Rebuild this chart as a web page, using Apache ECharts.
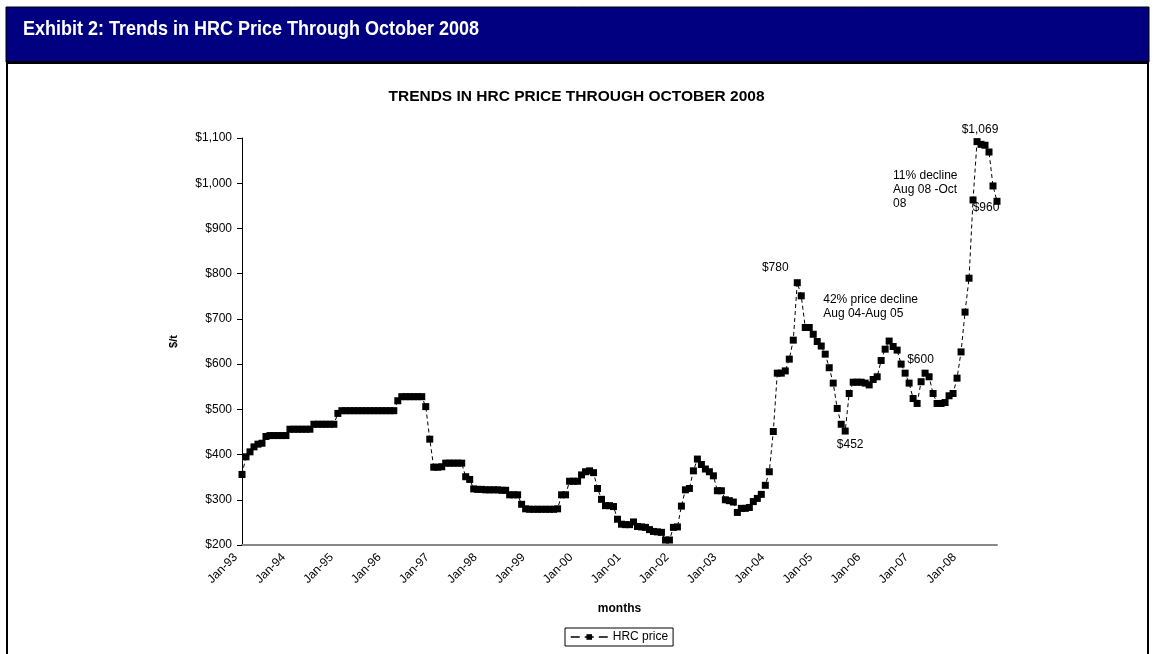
<!DOCTYPE html>
<html>
<head>
<meta charset="utf-8">
<title>Trends in HRC Price Through October 2008</title>
<script src="https://cdn.jsdelivr.net/npm/echarts/dist/echarts.min.js"></script>
<style>
  html, body { margin: 0; padding: 0; background: #fff; }
  #chart { width: 1153px; height: 654px; }
</style>
</head>
<body>
<div id="chart"></div>
<script>
// HRC price, $/t, monthly Jan-93 .. Oct-08
const monthNames = ['Jan', 'Feb', 'Mar', 'Apr', 'May', 'Jun', 'Jul', 'Aug', 'Sep', 'Oct', 'Nov', 'Dec']
const years = ['93', '94', '95', '96', '97', '98', '99', '00', '01', '02', '03', '04', '05', '06', '07', '08']

const p1993 = [356, 395, 406, 417, 423, 425, 440, 442, 442, 442, 442, 442]
const p1994 = [456, 456, 456, 456, 456, 456, 467, 467, 467, 467, 467, 467]
const p1995 = [491, 497, 497, 497, 497, 497, 497, 497, 497, 497, 497, 497]
const p1996 = [497, 497, 497, 519, 528, 528, 528, 528, 528, 528, 506, 434]
const p1997 = [372, 372, 373, 381, 381, 381, 381, 381, 351, 345, 324, 323]
const p1998 = [323, 322, 322, 322, 322, 321, 321, 311, 311, 311, 290, 280]
const p1999 = [279, 279, 279, 279, 279, 279, 279, 280, 311, 311, 341, 341]
const p2000 = [341, 355, 362, 364, 360, 325, 301, 287, 287, 285, 257, 246]
const p2001 = [245, 245, 251, 241, 240, 239, 234, 230, 229, 228, 211, 211]
const p2002 = [239, 240, 286, 322, 325, 364, 390, 378, 368, 362, 353, 320]
const p2003 = [320, 300, 298, 295, 272, 281, 281, 283, 296, 303, 312, 332]
const p2004 = [362, 451, 580, 580, 585, 611, 653, 780, 751, 681, 681, 666]
const p2005 = [650, 640, 622, 592, 558, 502, 467, 452, 535, 560, 560, 560]
const p2006 = [558, 554, 566, 572, 608, 633, 651, 639, 631, 600, 580, 558]
const p2007 = [524, 513, 561, 580, 572, 535, 513, 513, 515, 530, 535, 569]
const p2008 = [627, 715, 790, 963, 1092, 1086, 1084, 1069, 994, 960]

const yTicks = { min: 200, max: 1100, step: 100 }

const noteDecline05 = '42% price decline\nAug 04-Aug 05'
const noteDecline08 = '11% decline\nAug 08 -Oct\n08'

const prices = [].concat(p1993, p1994, p1995, p1996, p1997, p1998, p1999, p2000,
  p2001, p2002, p2003, p2004, p2005, p2006, p2007, p2008)

const categories = []
years.forEach(y => monthNames.forEach(m => categories.push(m + '-' + y)))
categories.length = prices.length

const money = v => '$' + v.toLocaleString('en-US')

// labels hung on particular months
const labelOn = {
  'Aug-04': { text: money, align: 'center', offset: [-22, -15] },
  'Oct-04': { text: noteDecline05, align: 'left', offset: [18, -21] },
  'Aug-05': { text: money, align: 'center', offset: [5, 14] },
  'Oct-06': { text: money, align: 'left', offset: [6, -4] },
  'Apr-08': { text: noteDecline08, align: 'left', offset: [-80, -10] },
  'Aug-08': { text: money, align: 'center', offset: [-9, -22] },
  'Oct-08': { text: money, align: 'center', offset: [-11, 6] }
}

const seriesData = prices.map((v, i) => {
  const l = labelOn[categories[i]]
  if (!l) return v
  return {
    value: v,
    label: {
      show: true,
      position: 'inside',
      formatter: typeof l.text === 'function' ? l.text(v) : l.text,
      align: l.align,
      verticalAlign: 'middle',
      offset: l.offset,
      color: '#000',
      fontFamily: 'Liberation Sans, Arial, sans-serif',
      fontSize: 12,
      lineHeight: 14
    }
  }
})

const chart = echarts.init(document.getElementById('chart'))

chart.setOption({
  backgroundColor: '#fff',
  animation: false,
  textStyle: { fontFamily: 'Liberation Sans, Arial, sans-serif', color: '#000' },
  graphic: [
    { type: 'rect', shape: { x: 6, y: 7, width: 1143, height: 55 }, style: { fill: '#000080', stroke: '#000', lineWidth: 1 } },
    { type: 'rect', shape: { x: 6, y: 61, width: 1143, height: 3 }, style: { fill: '#000' } },
    { type: 'line', shape: { x1: 7, y1: 63, x2: 7, y2: 654 }, style: { stroke: '#000', lineWidth: 2 } },
    { type: 'line', shape: { x1: 1148, y1: 63, x2: 1148, y2: 654 }, style: { stroke: '#000', lineWidth: 2 } },
    {
      type: 'text', x: 23, y: 19, scaleX: 0.9,
      style: {
        text: 'Exhibit 2: Trends in HRC Price Through October 2008',
        fill: '#fff',
        font: 'bold 20px "Liberation Sans", Arial, sans-serif',
        verticalAlign: 'top'
      }
    }
  ],
  title: {
    text: 'TRENDS IN HRC PRICE THROUGH OCTOBER 2008',
    left: 'center',
    top: 84,
    textStyle: { fontSize: 15.5, fontWeight: 'bold', color: '#000' }
  },
  legend: {
    data: ['HRC price'],
    left: 565,
    top: 628,
    padding: [3, 5],
    itemWidth: 37,
    itemHeight: 7,
    itemGap: 5,
    borderColor: '#000',
    borderWidth: 1,
    lineStyle: { type: [9, 5], width: 1.5 },
    textStyle: { fontSize: 12, color: '#000' }
  },
  grid: { left: 242, right: 156, top: 138, bottom: 109 },
  xAxis: {
    type: 'category',
    data: categories,
    boundaryGap: false,
    name: 'months',
    nameLocation: 'middle',
    nameGap: 58,
    nameTextStyle: { fontWeight: 'bold', fontSize: 12, color: '#000' },
    axisLine: { lineStyle: { color: '#888', width: 2 } },
    axisTick: { show: false },
    axisLabel: {
      rotate: 45,
      margin: 4,
      padding: [0, 9, 0, 0],
      fontSize: 12,
      color: '#000',
      interval: (index) => index % 12 === 0
    },
    splitLine: { show: false }
  },
  yAxis: {
    type: 'value',
    min: yTicks.min,
    max: yTicks.max,
    interval: yTicks.step,
    name: '$/t',
    nameLocation: 'middle',
    nameRotate: 90,
    nameGap: 63,
    nameTextStyle: { fontWeight: 'bold', fontSize: 11, color: '#000' },
    axisLine: { show: true, lineStyle: { color: '#000', width: 1 } },
    axisTick: { show: true, length: 5, lineStyle: { color: '#000' } },
    axisLabel: { fontSize: 12, color: '#000', margin: 10, formatter: money },
    splitLine: { show: false }
  },
  series: [
    {
      name: 'HRC price',
      type: 'line',
      data: seriesData,
      showAllSymbol: true,
      symbol: 'rect',
      symbolSize: 7,
      itemStyle: { color: '#000' },
      lineStyle: { color: '#000', width: 1, type: [4, 3] },
      emphasis: { disabled: true }
    }
  ]
})
</script>
</body>
</html>
